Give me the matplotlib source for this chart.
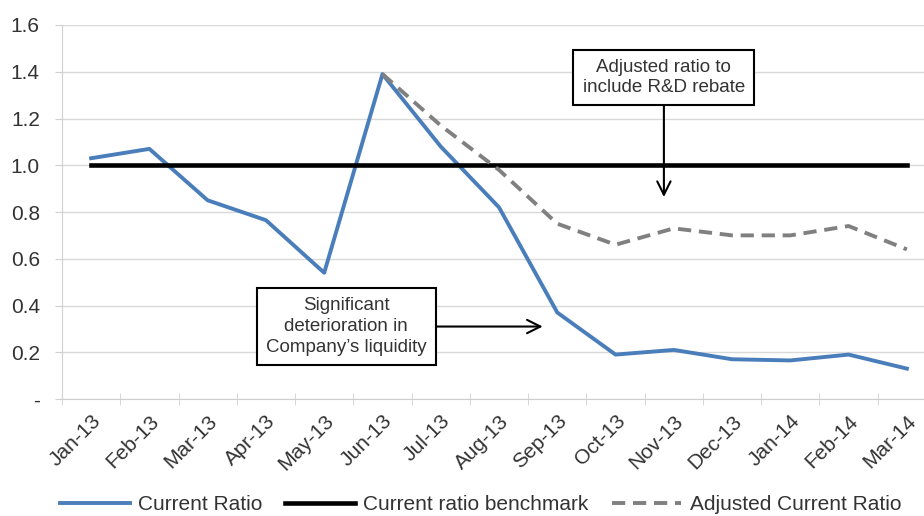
import matplotlib
matplotlib.use("Agg")
import matplotlib.pyplot as plt
import numpy as np

plt.rcParams['font.family'] = ['Liberation Sans', 'DejaVu Sans']

months = ["Jan-13", "Feb-13", "Mar-13", "Apr-13", "May-13", "Jun-13", "Jul-13", "Aug-13",
          "Sep-13", "Oct-13", "Nov-13", "Dec-13", "Jan-14", "Feb-14", "Mar-14"]
current_ratio = [1.03, 1.07, 0.85, 0.765, 0.54, 1.39, 1.08, 0.82, 0.37, 0.19, 0.21, 0.17, 0.165, 0.19, 0.13]
benchmark = [1.0] * 15
adjusted_ratio = [np.nan] * 5 + [1.39, 1.17, 0.98, 0.75, 0.66, 0.73, 0.70, 0.70, 0.74, 0.64]
yticks = [0, 0.2, 0.4, 0.6, 0.8, 1.0, 1.2, 1.4, 1.6]
ytick_labels = ["-", "0.2", "0.4", "0.6", "0.8", "1.0", "1.2", "1.4", "1.6"]

fig = plt.figure(figsize=(9.24, 5.16), dpi=100)
ax = fig.add_axes([62/924, 1-399/516, 874/924, 374/516])
x = np.arange(len(months))

ax.plot(x, current_ratio, color="#4a7ebb", lw=2.8, label="Current Ratio")
ax.plot(x, benchmark, color="black", lw=3.3, label="Current ratio benchmark")
ax.plot(x, adjusted_ratio, color="#808080", lw=2.8, ls=(0, (3.4, 2.0)), label="Adjusted Current Ratio")

ax.set_xlim(-0.5, 14.5)
ax.set_ylim(0, 1.6)
ax.set_yticks(yticks)
ax.set_yticklabels(ytick_labels, fontsize=15, color="#333333")
ax.set_xticks(x)
ax.set_xticklabels(months, rotation=45, ha="right", rotation_mode="anchor", fontsize=15, color="#333333")
ax.set_xticks(np.arange(-0.5, 15, 1), minor=True)
ax.tick_params(axis='x', which='major', length=0, pad=9)
ax.tick_params(axis='x', which='minor', length=9, color="#d0d0d0", direction='inout')
ax.tick_params(axis='y', length=5, color="#d0d0d0", pad=11)
ax.grid(axis='y', color="#d9d9d9", lw=1)
ax.set_axisbelow(True)
for s in ["top", "right"]:
    ax.spines[s].set_visible(False)
for s in ["left", "bottom"]:
    ax.spines[s].set_color("#d0d0d0")

# annotations
ax.annotate("Adjusted ratio to\ninclude R&D rebate", xy=(9.83, 0.864), xytext=(9.83, 1.375),
            ha="center", va="center", fontsize=13.5, color="#333333", linespacing=1.2,
            bbox=dict(boxstyle="square,pad=0.5", fc="white", ec="black", lw=1.5),
            arrowprops=dict(arrowstyle="->", lw=1.5, color="black", mutation_scale=24, shrinkA=0, shrinkB=0))
ax.annotate("Significant\ndeterioration in\nCompany\u2019s liquidity", xy=(7.75, 0.31), xytext=(4.38, 0.31),
            ha="center", va="center", fontsize=13.5, color="#333333", linespacing=1.28,
            bbox=dict(boxstyle="square,pad=0.5", fc="white", ec="black", lw=1.5),
            arrowprops=dict(arrowstyle="->", lw=1.5, color="black", mutation_scale=24, shrinkA=0, shrinkB=0))

fig.legend(loc="center", bbox_to_anchor=(0.52, 1-505/516), ncol=3, frameon=False, fontsize=15,
           handlelength=3.35, columnspacing=1.1, handletextpad=0.4, borderaxespad=0, borderpad=0,
           labelcolor="#333333")

fig.savefig("out.png", dpi=100)
